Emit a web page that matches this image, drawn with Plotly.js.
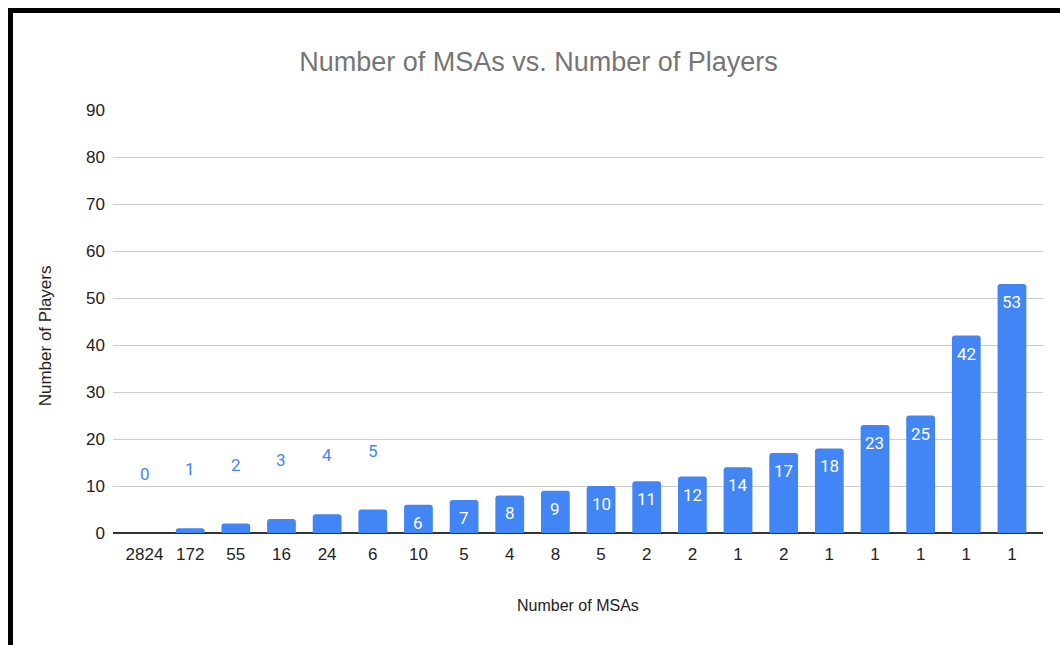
<!DOCTYPE html>
<html>
<head>
<meta charset="utf-8">
<script src="https://cdn.plot.ly/plotly-3.0.1.min.js"></script>
<style>
  html, body { margin: 0; padding: 0; background: #ffffff; }
  #wrap { position: relative; width: 1060px; height: 645px; overflow: hidden; }
  #chart { position: absolute; left: 0; top: 0; width: 1060px; height: 645px; }
  #frame { position: absolute; left: 8px; top: 8px; width: 1060px; height: 645px;
           border-left: 5px solid #000; border-top: 5px solid #000; pointer-events: none; }
</style>
</head>
<body>
<div id="wrap">
  <div id="chart"></div>
  <div id="frame"></div>
</div>
<script>
// Number of MSAs (tick labels) and number of players per group (bar heights)
const msaCounts = ["2824", "172", "55", "16", "24", "6", "10", "5", "4", "8",
                   "5", "2", "2", "1", "2", "1", "1", "1", "1", "1"];
const players = [0, 1, 2, 3, 4, 5, 6, 7, 8, 9, 10, 11, 12, 14, 17, 18, 23, 25, 42, 53];
const yTicks = [0, 10, 20, 30, 40, 50, 60, 70, 80, 90];

const barBlue = "#4285F4";
const font = "Liberation Sans, Arial, sans-serif";
const labelFont = "Roboto, Liberation Sans, sans-serif";
const positions = msaCounts.map((_, i) => i);

// Value labels: tall bars get a white label inside the top, short bars a blue label above
const insideMin = 6;
const valueLabels = players.map((v, i) => {
  const inside = v >= insideMin;
  return {
    x: positions[i], y: v, xref: "x", yref: "y",
    text: String(v), showarrow: false,
    yanchor: "middle", yshift: inside ? -18 : 59,
    font: { family: labelFont, size: 17, color: inside ? "#ffffff" : barBlue }
  };
});

const trace = {
  type: "bar",
  x: positions,
  y: players,
  marker: { color: barBlue, cornerradius: 3 },
  hoverinfo: "skip"
};

const layout = {
  width: 1060, height: 645,
  paper_bgcolor: "#ffffff", plot_bgcolor: "#ffffff",
  margin: { l: 113, r: 17, t: 110, b: 112 },
  bargap: 0.37,
  showlegend: false,
  title: {
    text: "Number of MSAs vs. Number of Players",
    font: { family: font, size: 27, color: "#757575" },
    x: 0.508, xanchor: "center",
    y: 1 - 62 / 645, yref: "container", yanchor: "middle"
  },
  xaxis: {
    range: [-0.69, 19.68],
    tickmode: "array", tickvals: positions, ticktext: msaCounts,
    tickfont: { family: font, size: 17, color: "#222222" },
    showgrid: false, zeroline: false,
    showline: false, ticks: "", ticklabelstandoff: 9, fixedrange: true
  },
  yaxis: {
    range: [0, 90],
    tickmode: "array", tickvals: yTicks,
    tickfont: { family: font, size: 17, color: "#222222" },
    showgrid: true, gridcolor: "#cccccc", gridwidth: 1,
    zeroline: true, zerolinecolor: "#333333", zerolinewidth: 2,
    showline: false, ticks: "", ticklabelstandoff: 7, fixedrange: true
  },
  annotations: valueLabels.concat([
    {
      text: "Number of MSAs", xref: "paper", yref: "paper",
      x: 0.5, y: -72 / 423, xanchor: "center", yanchor: "middle", showarrow: false,
      font: { family: font, size: 16, color: "#222222" }
    },
    {
      text: "Number of Players", xref: "paper", yref: "paper",
      x: -68 / 930, y: 0.465, xanchor: "center", yanchor: "middle", showarrow: false,
      textangle: -90,
      font: { family: font, size: 17, color: "#222222" }
    }
  ])
};

Plotly.newPlot("chart", [trace], layout, { displayModeBar: false, staticPlot: true });
</script>
</body>
</html>
